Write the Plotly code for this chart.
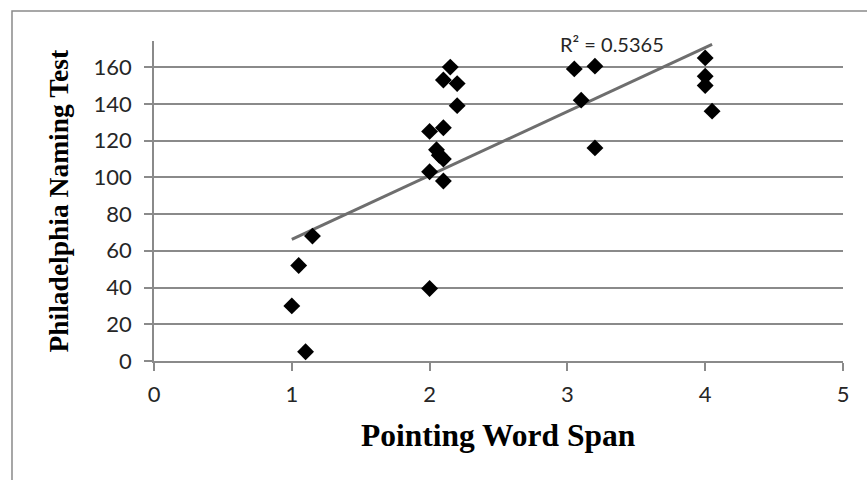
import numpy as np
import plotly.graph_objects as go

# Data
pointing_word_span = [1.00, 1.05, 1.10, 1.15,
                      2.00, 2.15, 2.10, 2.20, 2.20, 2.00, 2.10, 2.05, 2.07, 2.10, 2.00, 2.10,
                      3.05, 3.20, 3.10, 3.20,
                      4.00, 4.00, 4.00, 4.05]
philadelphia_naming = [30, 52, 5, 68,
                       39.5, 160, 153, 151, 139, 125, 127, 115, 112, 110, 103, 98,
                       159, 160.5, 142, 116,
                       165, 155, 150, 136]
r2_label = "R² = 0.5365"
x_title = "Pointing Word Span"
y_title = "Philadelphia Naming Test"
x_ticks = [0, 1, 2, 3, 4, 5]
y_ticks = [0, 20, 40, 60, 80, 100, 120, 140, 160]

x = np.array(pointing_word_span)
y = np.array(philadelphia_naming)
slope, intercept = np.polyfit(x, y, 1)
trend_x = np.array([x.min(), x.max()])
trend_y = slope * trend_x + intercept

fig = go.Figure()
fig.add_trace(go.Scatter(
    x=trend_x, y=trend_y, mode="lines",
    line=dict(color="#6e6e6e", width=3), hoverinfo="skip", showlegend=False))
fig.add_trace(go.Scatter(
    x=x, y=y, mode="markers",
    marker=dict(symbol="diamond", size=13, color="black"),
    showlegend=False))

fig.add_annotation(x=3.32, y=174, xref="x", yref="y", text=r2_label, showarrow=False,
                   font=dict(family="Lato, Liberation Sans, sans-serif", size=20, color="#262626"),
                   yshift=-3)

title_font_x = dict(family="Liberation Serif, Times New Roman, serif", size=31.5, color="black")
title_font_y = dict(family="Liberation Serif, Times New Roman, serif", size=27.5, color="black")
fig.add_annotation(x=0.5, y=-0.233, xref="paper", yref="paper", text="<b>" + x_title + "</b>",
                   showarrow=False, xanchor="center", yanchor="middle", font=title_font_x)
fig.add_annotation(x=-0.14, y=0.5, xref="paper", yref="paper", text="<b>" + y_title + "</b>",
                   showarrow=False, xanchor="center", yanchor="middle", textangle=-90, font=title_font_y)

# outer chart border
fig.add_shape(type="rect", xref="paper", yref="paper",
              x0=-0.2061, x1=1.1, y0=-0.45, y1=1.09375,
              line=dict(color="#8a8a8a", width=1.5), fillcolor="rgba(0,0,0,0)", layer="below")

tick_font = dict(family="Lato, Liberation Sans, sans-serif", size=22, color="#262626")

fig.update_layout(
    width=867, height=480,
    margin=dict(l=154, r=24, t=41, b=119),
    paper_bgcolor="white", plot_bgcolor="white",
    xaxis=dict(range=[0, 5], tickvals=x_ticks, showgrid=False, zeroline=False,
               showline=True, linecolor="#8a8a8a", linewidth=1.5,
               ticks="outside", ticklen=8, tickcolor="#8a8a8a", tickwidth=1.5,
               tickfont=tick_font, ticklabelstandoff=5),
    yaxis=dict(range=[0, 174.2], tickvals=y_ticks, showgrid=True, gridcolor="#8a8a8a", gridwidth=1.6,
               zeroline=False, showline=True, linecolor="#8a8a8a", linewidth=1.5,
               ticks="outside", ticklen=8, tickcolor="#8a8a8a", tickwidth=1.5,
               tickfont=tick_font, ticklabelstandoff=8),
)

fig.write_html("out.html")
